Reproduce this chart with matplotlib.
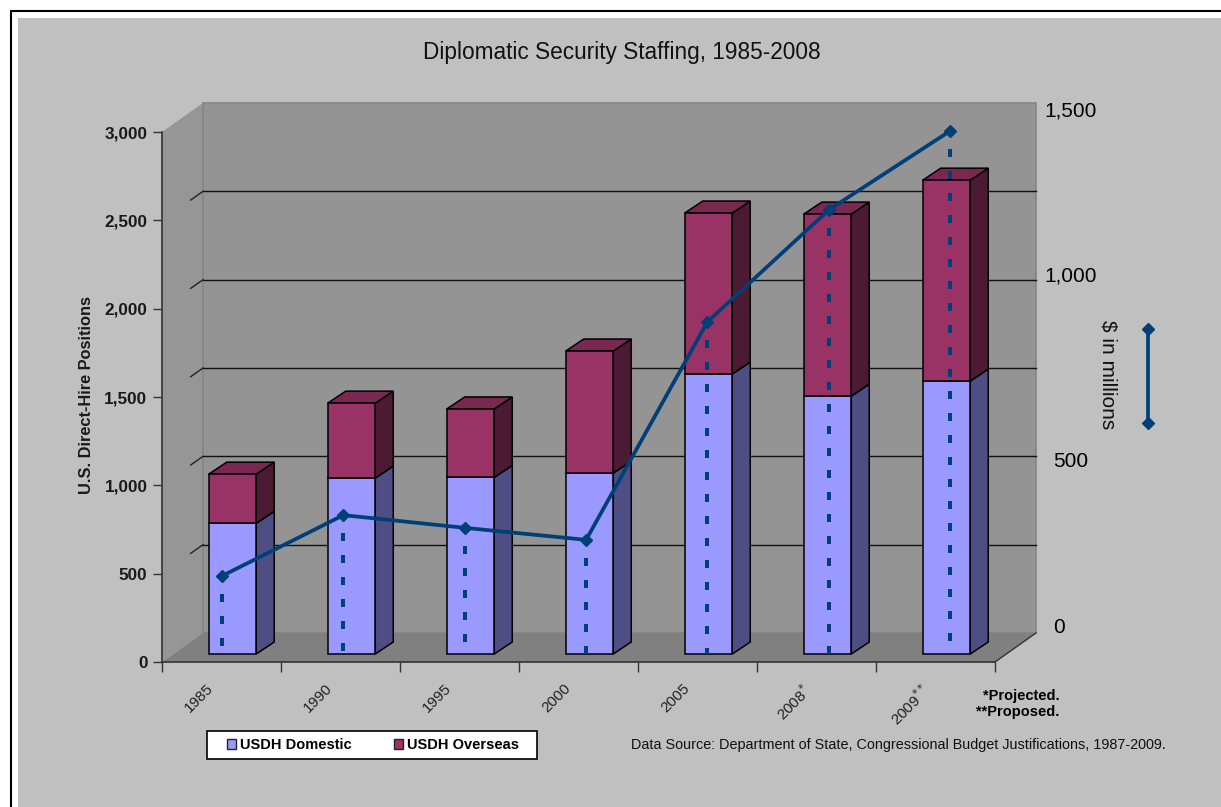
import matplotlib
matplotlib.use("Agg")
import matplotlib.pyplot as plt
from matplotlib.patches import Polygon, Rectangle, Patch

plt.rcParams['font.family'] = ['Liberation Sans', 'DejaVu Sans']

# data
years = ['1985', '1990', '1995', '2000', '2005', '2008$^{*}$', '2009$^{**}$']
domestic = [740, 996, 1000, 1024, 1585, 1460, 1545]
overseas = [278, 424, 387, 691, 911, 1030, 1137]
budget = [143, 320, 283, 248, 883, 1209, 1439]

left_ticks = [0, 500, 1000, 1500, 2000, 2500, 3000]
right_tick_pos = [-5, 480, 1019, 1500]
right_tick_labels = ['0', '500', '1,000', '1,500']

BLUE = '#9999ff'
BLUE_SIDE = '#4e4e85'
RED = '#993366'
RED_TOP = '#7a2852'
RED_SIDE = '#4d1a33'
NAVY = '#003f77'

W, H = 1221, 807
fig = plt.figure(figsize=(W / 100, H / 100), dpi=100, facecolor='white')

# frame and grey chart area
bg = fig.add_axes([0, 0, 1, 1])
bg.set_xlim(0, W)
bg.set_ylim(H, 0)
bg.axis('off')
bg.add_patch(Rectangle((11, 11), W, H, fc='white', ec='black', lw=1.5))
bg.add_patch(Rectangle((18, 18), W, H, fc='#c0c0c0', ec='none'))

# main axes, front plane of the 3d box
ax = fig.add_axes([162 / W, (H - 662) / H, 833 / W, 530 / H])
ax.patch.set_alpha(0)
ax.set_xlim(0, 7)
ax.set_ylim(0, 3000)
px_x = 7 / 833
px_y = 3000 / 530

wall_dx, wall_dy = 41 * px_x, 29 * px_y
bar_off_x, bar_off_y = 11 * px_x, 8 * px_y
bar_dx, bar_dy = 18 * px_x, 12 * px_y
bar_w = 47.5 * px_x

# side wall, back wall, floor
ax.add_patch(Polygon([(0, 0), (wall_dx, wall_dy), (wall_dx, 3000 + wall_dy), (0, 3000)],
                     closed=True, fc='#969696', ec='none', clip_on=False, zorder=1))
ax.add_patch(Polygon([(wall_dx, wall_dy), (7 + wall_dx, wall_dy), (7 + wall_dx, 3000 + wall_dy),
                      (wall_dx, 3000 + wall_dy)],
                     closed=True, fc='#949494', ec='#858585', lw=1.2, clip_on=False, zorder=1))
ax.add_patch(Polygon([(0, 0), (7, 0), (7 + wall_dx, wall_dy), (wall_dx, wall_dy)],
                     closed=True, fc='#808080', ec='none', clip_on=False, zorder=1.5))

# grid lines on the back wall, with the short bit on the side wall
for t in left_ticks[1:-1]:
    ax.plot([wall_dx, 7 + wall_dx], [t + wall_dy, t + wall_dy], color='#111111', lw=1,
            clip_on=False, zorder=2)
    ax.plot([wall_dx * 0.7, wall_dx], [t + wall_dy * 0.7, t + wall_dy], color='#222222', lw=1,
            clip_on=False, zorder=2)


def draw_segment(x0, y0, height, front, top, side):
    x1 = x0 + bar_w
    y1 = y0 + height
    ax.add_patch(Polygon([(x1, y0), (x1 + bar_dx, y0 + bar_dy), (x1 + bar_dx, y1 + bar_dy), (x1, y1)],
                         closed=True, fc=side, ec='black', lw=1.1, clip_on=False, zorder=3))
    ax.add_patch(Polygon([(x0, y1), (x0 + bar_dx, y1 + bar_dy), (x1 + bar_dx, y1 + bar_dy), (x1, y1)],
                         closed=True, fc=top, ec='black', lw=1.1, clip_on=False, zorder=3))
    ax.add_patch(Rectangle((x0, y0), bar_w, height, fc=front, ec='black', lw=1.1,
                           clip_on=False, zorder=3))


for i in range(len(years)):
    x0 = i + 0.5 + bar_off_x - bar_w / 2
    draw_segment(x0, bar_off_y, domestic[i], BLUE, BLUE, BLUE_SIDE)
    draw_segment(x0, bar_off_y + domestic[i], overseas[i], RED, RED_TOP, RED_SIDE)

# axis lines and ticks
for s in ['top', 'right']:
    ax.spines[s].set_visible(False)
for s in ['left', 'bottom']:
    ax.spines[s].set_color('#333333')
    ax.spines[s].set_linewidth(1.2)
    ax.spines[s].set_zorder(2.5)
ax.plot([7, 7 + wall_dx], [0, wall_dy], color='#333333', lw=1, clip_on=False, zorder=2)

ax.set_yticks(left_ticks)
ax.set_yticklabels([f'{t:,}' for t in left_ticks], fontsize=12.3, fontweight='bold', color='#1a1a1a')
ax.tick_params(axis='y', length=6.5, width=1, color='#333333', pad=4)
ax.set_xticks(range(8))
ax.set_xticklabels([])
ax.tick_params(axis='x', which='major', length=7, width=1, color='#333333')
ax.set_xticks([i + 0.5 - 15 * px_x for i in range(7)], minor=True)
ax.set_xticklabels(years, minor=True, rotation=45, ha='right', va='top', rotation_mode='anchor',
                   fontsize=11, color='#222222')
ax.tick_params(axis='x', which='minor', length=0, pad=14)
ax.set_ylabel('U.S. Direct-Hire Positions', fontsize=11.8, fontweight='bold', color='#1a1a1a')
ax.yaxis.set_label_coords(-0.082, 0.504)

# budget line, on its own scale
ax2 = fig.add_axes([162 / W, (H - 662) / H, 833 / W, 530 / H])
ax2.patch.set_alpha(0)
ax2.set_xlim(-0.495, 6.37)
ax2.set_ylim(-107.8, 1436)
ax2.axis('off')
xs = list(range(len(budget)))
for x, v in zip(xs, budget):
    # dashes run down from the marker
    ax2.plot([x, x], [v, -84], color=NAVY, lw=2.88, linestyle=(1.0, (2.0, 3.5)),
             clip_on=False, zorder=4)
ax2.plot(xs, budget, color=NAVY, lw=2.7, marker='D', ms=6, clip_on=False, zorder=5)

for pos, lab in zip(right_tick_pos, right_tick_labels):
    x_text = 1053 if len(lab) < 4 else 1044
    ax2.annotate(lab, xy=(1, pos), xycoords=('axes fraction', 'data'),
                 xytext=((x_text - 995) * 0.72, -0.8), textcoords='offset points',
                 ha='left', va='center', fontsize=15, color='black', annotation_clip=False)

# texts in picture pixels
bg.text(622, 53, 'Diplomatic Security Staffing, 1985-2008', ha='center', va='center',
        fontsize=16.3, color='#111111')
bg.text(1108, 375, '$ in millions', rotation=-90, ha='center', va='center', fontsize=15,
        color='#111111')
bg.text(983, 696, '*Projected.', ha='left', va='center', fontsize=10.5, fontweight='bold')
bg.text(976, 712, '**Proposed.', ha='left', va='center', fontsize=10.5, fontweight='bold')
bg.text(631, 745, 'Data Source: Department of State, Congressional Budget Justifications, 1987-2009.',
        ha='left', va='center', fontsize=10.39, color='#111111')

# key for the line, next to the right axis
bg.plot([1148, 1148], [329, 423], color=NAVY, lw=2.7, marker='D', ms=6)

# legend box
bg.add_patch(Rectangle((207, 731), 330, 28, fc='white', ec='black', lw=1.2))
handles = [Patch(fc=BLUE, ec='#222222', lw=1), Patch(fc=RED, ec='#222222', lw=1)]
fig.legend(handles, ['USDH Domestic', 'USDH Overseas'], ncols=2, loc='center left',
           bbox_to_anchor=(227 / W, (H - 745) / H), borderaxespad=0, borderpad=0, frameon=False,
           handlelength=0.62, handleheight=0.62, handletextpad=0.27, columnspacing=2.88,
           prop={'size': 10.5, 'weight': 'bold'})

fig.savefig('out.png', dpi=100)
